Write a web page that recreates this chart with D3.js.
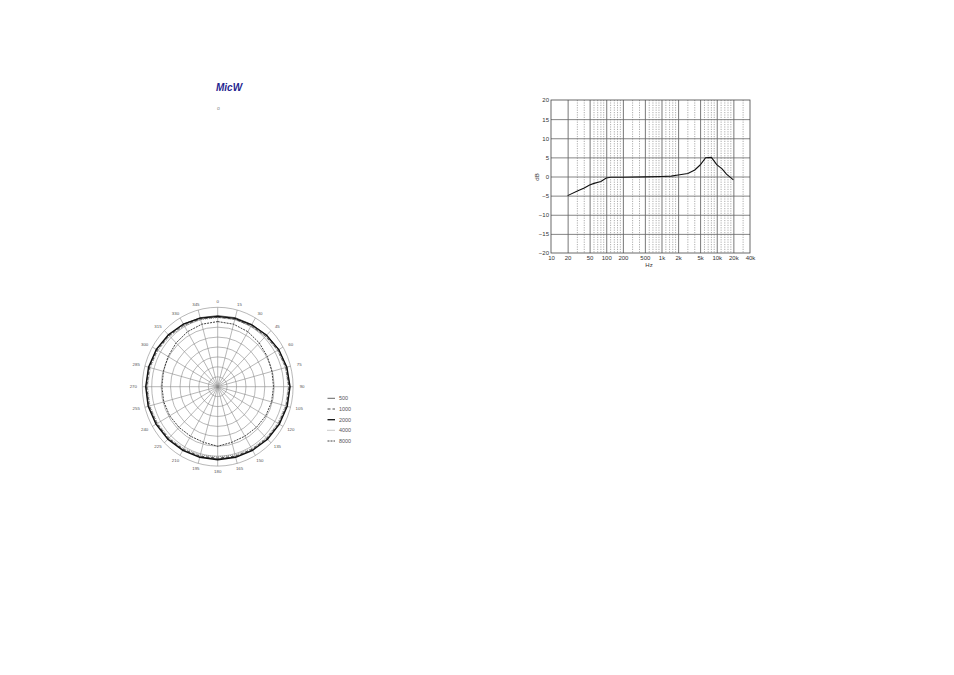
<!DOCTYPE html>
<html>
<head>
<meta charset="utf-8">
<script src="https://cdn.jsdelivr.net/npm/d3@7"></script>
<style>
html,body{margin:0;padding:0;background:#fff;}
svg{display:block;}
text{font-family:"Liberation Sans",Arial,sans-serif;}
</style>
</head>
<body>
<svg id="c" width="954" height="675"></svg>
<script>
// ---------- Frequency response data ----------
const freqHz = [20,30,40,50,60,80,100,120,200,500,1000,1500,2000,3000,4000,5000,6300,8000,10000,12500,15000,20000];
const respDb = [-5.0,-3.8,-3.0,-2.2,-1.8,-1.3,-0.4,-0.2,-0.2,-0.1,0,0.1,0.4,0.8,1.7,3.0,4.9,5.0,3.1,2.0,0.6,-0.9];
const xTickVals = [10,20,50,100,200,500,1000,2000,5000,10000,20000,40000];
const xTickLabels = ["10","20","50","100","200","500","1k","2k","5k","10k","20k","40k"];
const yTickVals = [-20,-15,-10,-5,0,5,10,15,20];
const xMinorVals = [30,40,60,70,80,90,120,140,160,180,300,400,600,700,800,900,1200,1400,1600,1800,3000,4000,6000,7000,8000,9000,12000,14000,16000,18000,30000];

// ---------- Polar pattern data (dB, angles in degrees) ----------
const anglesDeg = [0,15,30,45,60,75,90,105,120,135,150,165,180,195,210,225,240,255,270,285,300,315,330,345];
const angleLabels = ["0","15","30","45","60","75","90","105","120","135","150","165","180","195","210","225","240","255","270","285","300","315","330","345"];
const polarSeriesNames = ["500","1000","2000","4000","8000"];
const s500  = [-4.2,-4.0,-3.8,-3.2,-2.6,-2.2,-1.8,-2.0,-2.4,-2.8,-3.2,-3.4,-3.6,-3.4,-3.2,-2.8,-2.4,-2.0,-2.0,-2.2,-2.6,-3.2,-3.6,-4.0];
const s1000 = [-5.0,-4.8,-4.6,-4.0,-3.2,-2.6,-2.2,-2.4,-2.8,-3.2,-3.6,-3.8,-4.0,-3.8,-3.6,-3.2,-2.8,-2.4,-2.4,-2.6,-3.0,-3.6,-4.2,-4.6];
const s2000 = [-4.6,-4.4,-4.0,-3.4,-2.6,-2.0,-1.6,-1.8,-2.2,-2.6,-3.0,-3.2,-3.2,-3.2,-3.0,-2.6,-2.2,-1.8,-1.8,-2.0,-2.4,-3.0,-3.6,-4.2];
const s4000 = [-5.2,-5.0,-4.8,-4.2,-3.4,-2.8,-2.6,-2.8,-3.2,-3.6,-4.0,-4.4,-4.6,-4.4,-4.0,-3.6,-3.2,-2.8,-2.8,-3.0,-3.4,-4.0,-4.6,-5.0];
const s8000 = [-7.2,-7.4,-8.0,-8.8,-9.6,-10.2,-10.4,-10.4,-10.6,-11.0,-11.2,-11.0,-10.0,-11.0,-11.2,-11.0,-10.6,-10.4,-10.4,-10.2,-9.6,-8.8,-8.0,-7.4];
const ringDb = [-35,-30,-25,-20,-15,-10,-5,0];

const svg = d3.select("#c");

// ---------- Logo ----------
svg.append("text").attr("x",216).attr("y",90.5).attr("font-size",10)
  .attr("font-style","italic").attr("font-weight","bold").attr("fill","#25258f")
  .attr("font-family","'Liberation Serif','Times New Roman',serif").text("MicW");
svg.append("text").attr("x",218.3).attr("y",110).attr("font-size",5).attr("fill","#888")
  .attr("text-anchor","middle").text("o");

// ---------- Frequency response chart ----------
const L=551,R=750,T=100,B=253;
const fx = d3.scaleLog().domain([10,40000]).range([L,R]);
const fy = d3.scaleLinear().domain([-20,20]).range([B,T]);
const fg = svg.append("g");

// minor dotted verticals
fg.append("g").selectAll("line").data(xMinorVals).join("line")
  .attr("x1",d=>fx(d)).attr("x2",d=>fx(d)).attr("y1",T).attr("y2",B)
  .attr("stroke","#8a8a8a").attr("stroke-width",0.7).attr("stroke-dasharray","1.2,1.2");
// major verticals
fg.append("g").attr("transform",`translate(0,${B})`)
  .call(d3.axisBottom(fx).tickValues(xTickVals.slice(1,-1)).tickSize(-(B-T)).tickFormat(""))
  .call(g=>g.select(".domain").remove())
  .call(g=>g.selectAll("line").attr("stroke","#555").attr("stroke-width",0.8));
// horizontals
fg.append("g").attr("transform",`translate(${L},0)`)
  .call(d3.axisLeft(fy).tickValues(yTickVals.slice(1,-1)).tickSize(-(R-L)).tickFormat(""))
  .call(g=>g.select(".domain").remove())
  .call(g=>g.selectAll("line").attr("stroke","#666").attr("stroke-width",0.8));
// frame
fg.append("rect").attr("x",L).attr("y",T).attr("width",R-L).attr("height",B-T)
  .attr("fill","none").attr("stroke","#444").attr("stroke-width",0.8);
// tick labels
fg.append("g").attr("transform",`translate(0,${B})`)
  .call(d3.axisBottom(fx).tickValues(xTickVals).tickSize(0).tickPadding(3)
        .tickFormat((d,i)=>xTickLabels[i]))
  .call(g=>g.select(".domain").remove())
  .call(g=>g.selectAll("text").attr("font-size",6).attr("fill","#333")
        .attr("font-family","'Liberation Sans',Arial,sans-serif"));
fg.append("g").attr("transform",`translate(${L},0)`)
  .call(d3.axisLeft(fy).tickValues(yTickVals).tickSize(0).tickPadding(2))
  .call(g=>g.select(".domain").remove())
  .call(g=>g.selectAll("text").attr("font-size",6).attr("fill","#333")
        .attr("font-family","'Liberation Sans',Arial,sans-serif"));
fg.append("text").attr("x",649).attr("y",266.5).attr("font-size",6).attr("fill","#333")
  .attr("text-anchor","middle").text("Hz");
fg.append("text").attr("transform","translate(539,177) rotate(-90)").attr("font-size",6)
  .attr("fill","#333").attr("text-anchor","middle").text("dB");
// curve
fg.append("path").datum(freqHz.map((f,i)=>[f,respDb[i]]))
  .attr("d",d3.line().x(d=>fx(d[0])).y(d=>fy(d[1])))
  .attr("fill","none").attr("stroke","#111").attr("stroke-width",1.1);

// ---------- Polar chart ----------
const cx=217.7, cy=386.7, rX=75.4, rY=79.4;
const rs = d3.scaleLinear().domain([-40,0]).range([0,rX]);
const pg = svg.append("g").attr("transform",`translate(${cx},${cy}) scale(1,${rY/rX})`);
// rings
pg.append("g").selectAll("circle").data(ringDb).join("circle")
  .attr("r",d=>rs(d)).attr("fill","none").attr("stroke","#888").attr("stroke-width",0.6)
  .attr("vector-effect","non-scaling-stroke");
// spokes
pg.append("g").selectAll("line").data(anglesDeg).join("line")
  .attr("x1",0).attr("y1",0)
  .attr("x2",d=>rs(0)*Math.sin(d*Math.PI/180)).attr("y2",d=>-rs(0)*Math.cos(d*Math.PI/180))
  .attr("stroke","#888").attr("stroke-width",0.6).attr("vector-effect","non-scaling-stroke");
// series
const polarData = [s500,s1000,s2000,s4000,s8000];
const styles = [
  {w:0.7, dash:null, c:"#222"},
  {w:0.8, dash:"3,2", c:"#222"},
  {w:1.3, dash:null, c:"#111"},
  {w:0.8, dash:"1,1", c:"#777"},
  {w:0.8, dash:"2,1", c:"#111"}
];
const radial = d3.lineRadial().angle(d=>d[0]*Math.PI/180).radius(d=>rs(d[1])).curve(d3.curveLinearClosed);
polarData.forEach((arr,k)=>{
  pg.append("path").datum(anglesDeg.map((a,i)=>[a,arr[i]]))
    .attr("d",radial).attr("fill","none").attr("stroke",styles[k].c)
    .attr("stroke-width",styles[k].w).attr("stroke-dasharray",styles[k].dash)
    .attr("vector-effect","non-scaling-stroke");
});
// angle labels
svg.append("g").selectAll("text").data(anglesDeg).join("text")
  .attr("x",d=>cx+(rX+9)*Math.sin(d*Math.PI/180))
  .attr("y",d=>cy-(rY+5.5)*Math.cos(d*Math.PI/180)+1.5)
  .attr("text-anchor","middle").attr("font-size",4.4).attr("fill","#555")
  .text((d,i)=>angleLabels[i]);
// legend
const legY = [398.3,409,419.7,430.3,441];
const lg = svg.append("g");
polarSeriesNames.forEach((n,k)=>{
  lg.append("line").attr("x1",327.5).attr("x2",335).attr("y1",legY[k]).attr("y2",legY[k])
    .attr("stroke",styles[k].c).attr("stroke-width",styles[k].w).attr("stroke-dasharray",styles[k].dash);
  lg.append("text").attr("x",339).attr("y",legY[k]+1.9).attr("font-size",5.4).attr("fill","#555").text(n);
});
</script>
</body>
</html>
